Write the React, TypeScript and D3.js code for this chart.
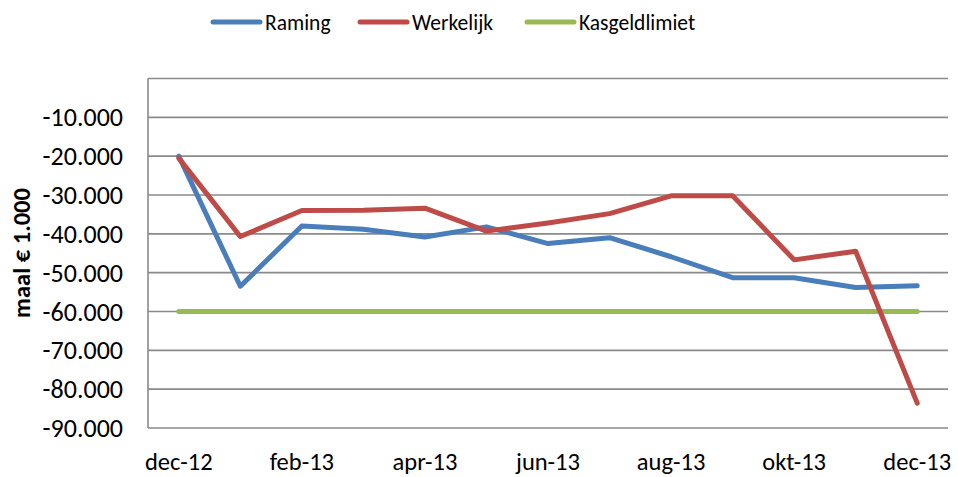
import React from "react";
import * as d3 from "d3";

const months: string[] = [
  "dec-12", "jan-13", "feb-13", "mrt-13", "apr-13", "mei-13", "jun-13",
  "jul-13", "aug-13", "sep-13", "okt-13", "nov-13", "dec-13",
];
const raming: number[] = [
  -20000, -53500, -38000, -38800, -40800, -38200, -42500,
  -41000, -45900, -51300, -51300, -53800, -53400,
];
const werkelijk: number[] = [
  -20500, -40700, -34000, -33900, -33400, -39300, -37200,
  -34800, -30200, -30200, -46700, -44500, -83600,
];
const kasgeldlimiet: number[] = months.map(() => -60000);
const yTicks: number[] = [0, -10000, -20000, -30000, -40000, -50000, -60000, -70000, -80000, -90000];

const series = [
  { name: "Raming", values: raming, color: "#4A7EBB" },
  { name: "Werkelijk", values: werkelijk, color: "#BE4B48" },
  { name: "Kasgeldlimiet", values: kasgeldlimiet, color: "#98B954" },
];

const width = 958;
const height = 477;
const left = 148;
const right = 948;
const top = 78.5;
const bottom = 428;
const font = "Carlito, Calibri, 'Liberation Sans Narrow', 'DejaVu Sans Condensed', sans-serif";

const fmt = (v: number) => (v === 0 ? "" : d3.format(",")(v).replace(/,/g, ".").replace("−", "-"));

const App = () => {
  const x = d3.scalePoint<string>().domain(months).range([left, right]).padding(0.5);
  const y = d3.scaleLinear().domain([-90000, 0]).range([bottom, top]);

  const line = d3
    .line<number>()
    .x((_, i) => x(months[i]) as number)
    .y((d) => y(d));

  const legendX = [213, 360, 527];

  return (
    <svg width={width} height={height} style={{ display: "block", position: "absolute", left: 0, top: 0 }}>
      <rect width={width} height={height} fill="#fff" />
      {yTicks.map((t) => (
        <line key={t} x1={left} x2={right} y1={y(t)} y2={y(t)} stroke="#8a8a8a" strokeWidth={1.6} />
      ))}
      <line x1={left} x2={left} y1={top} y2={bottom} stroke="#8a8a8a" strokeWidth={1.6} />
      {yTicks.filter((t) => t !== 0).map((t) => (
        <text key={t} x={123} y={y(t)} dy="0.35em" textAnchor="end" fontFamily={font} fontSize={26} fill="#000">
          {fmt(t)}
        </text>
      ))}
      {months.map((m, i) =>
        i % 2 === 0 ? (
          <text key={m} x={x(m) as number} y={469.5} textAnchor="middle" fontFamily={font} fontSize={24.5} fill="#000">
            {m}
          </text>
        ) : null
      )}
      <text
        transform={`translate(21,253) rotate(-90)`}
        textAnchor="middle"
        dy="0.35em"
        fontFamily={font}
        fontSize={24.5}
        fontWeight="bold"
        fill="#000"
      >
        maal € 1.000
      </text>
      {[series[2], series[0], series[1]].map((s) => (
        <path
          key={s.name}
          d={line(s.values) as string}
          fill="none"
          stroke={s.color}
          strokeWidth={5}
          strokeLinecap="round"
          strokeLinejoin="round"
        />
      ))}
      {series.map((s, i) => (
        <g key={s.name} transform={`translate(${legendX[i]},22)`}>
          <line x1={0} x2={47} y1={0} y2={0} stroke={s.color} strokeWidth={5} strokeLinecap="round" />
          <text x={52} y={0} dy="0.35em" fontFamily={font} fontSize={21.5} fill="#000">
            {s.name}
          </text>
        </g>
      ))}
    </svg>
  );
};

export default App;
